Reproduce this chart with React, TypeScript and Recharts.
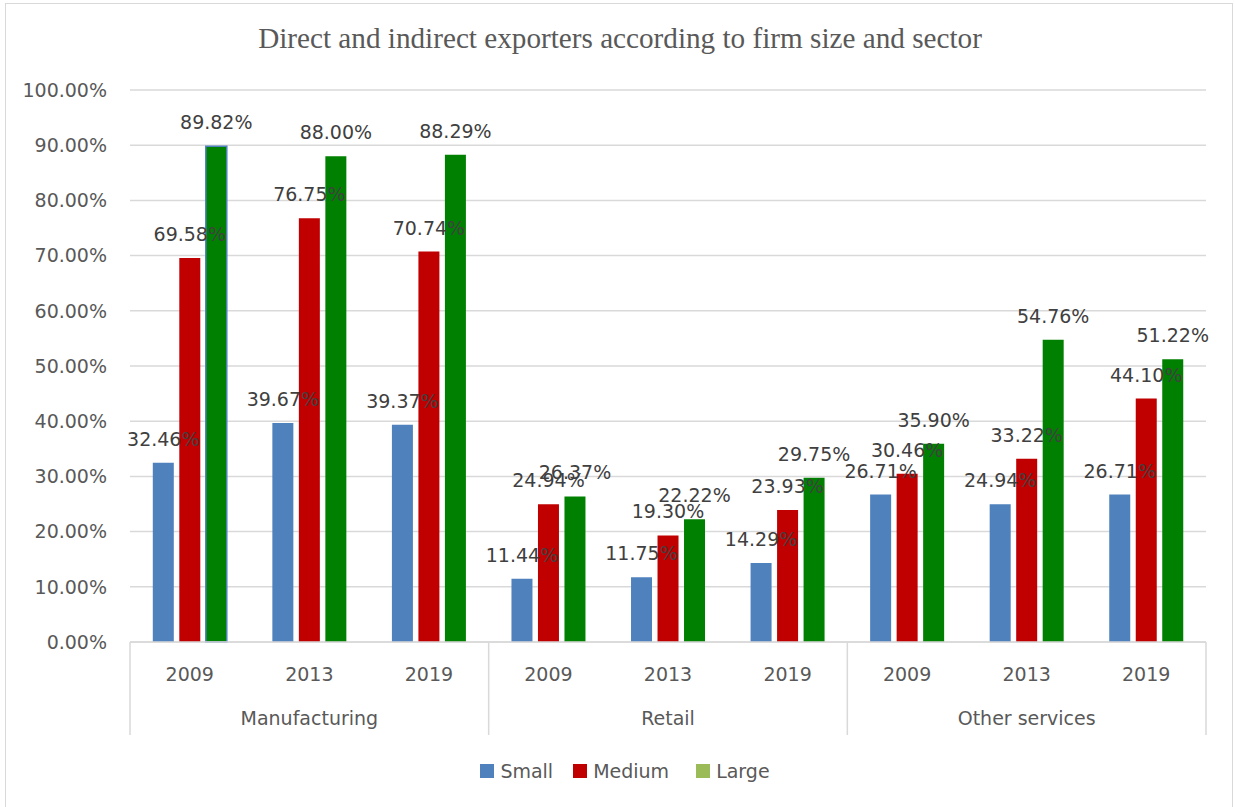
import React from 'react';
import { BarChart, Bar, XAxis, YAxis, CartesianGrid, LabelList, Cell } from 'recharts';

const sectors = ['Manufacturing', 'Retail', 'Other services'];
const years = ['2009', '2013', '2019'];

const small = [32.46, 39.67, 39.37, 11.44, 11.75, 14.29, 26.71, 24.94, 26.71];
const medium = [69.58, 76.75, 70.74, 24.94, 19.3, 23.93, 30.46, 33.22, 44.1];
const large = [89.82, 88.0, 88.29, 26.37, 22.22, 29.75, 35.9, 54.76, 51.22];

const yTicks = [0, 10, 20, 30, 40, 50, 60, 70, 80, 90, 100];

const data = small.map((v, i) => ({
  key: `${sectors[Math.floor(i / 3)]}-${years[i % 3]}`,
  year: years[i % 3],
  sector: sectors[Math.floor(i / 3)],
  small: v,
  medium: medium[i],
  large: large[i],
}));

const W = 1235;
const H = 807;
const xAxisHeight = 90;
const margin = { top: 90, right: 29, bottom: 165 - xAxisHeight, left: 30 };
const yAxisWidth = 100;
const plotWidth = W - margin.left - margin.right - yAxisWidth;
const band = plotWidth / data.length;

const FONT = '"DejaVu Sans", sans-serif';
const GRID = '#d9d9d9';

const pct = (v: number) => `${v.toFixed(2)}%`;

const XTick = (props: any) => {
  const { x, y, index } = props;
  const row = data[index];
  const left = x - band / 2;
  const right = x + band / 2;
  return (
    <g>
      <text x={x} y={y + 39} textAnchor="middle" fill="#595959" fontSize={19} fontFamily={FONT}>
        {row.year}
      </text>
      {index % 3 === 1 && (
        <text x={x} y={y + 83} textAnchor="middle" fill="#595959" fontSize={19} fontFamily={FONT}>
          {row.sector}
        </text>
      )}
      {index % 3 === 0 && <line x1={left} x2={left} y1={y} y2={y + 93} stroke={GRID} strokeWidth={1.5} />}
      {index === data.length - 1 && (
        <line x1={right} x2={right} y1={y} y2={y + 93} stroke={GRID} strokeWidth={1.5} />
      )}
    </g>
  );
};

const legendItems = [
  { name: 'Small', color: '#4f81bd', gap: 20 },
  { name: 'Medium', color: '#c00000', gap: 27 },
  { name: 'Large', color: '#9bbb59', gap: 0 },
];

const labelProps = {
  position: 'top' as const,
  offset: 17,
  formatter: (v: any) => pct(Number(v)),
  style: { fontFamily: FONT, fontSize: 19, fill: '#404040' },
};

export default function App() {
  return (
    <div style={{ position: 'absolute', left: 0, top: 0, width: W, height: H, background: '#fff' }}>
      <div
        style={{
          position: 'absolute',
          left: 5,
          top: 3,
          width: 1228,
          height: 810,
          border: '1.5px solid #d9d9d9',
          boxSizing: 'border-box',
        }}
      />
      <div
        style={{
          position: 'absolute',
          left: 0,
          top: 22,
          width: 1240,
          textAlign: 'center',
          fontFamily: '"Liberation Serif", "Times New Roman", serif',
          fontSize: 29.2,
          color: '#595959',
        }}
      >
        Direct and indirect exporters according to firm size and sector
      </div>
      <div style={{ position: 'absolute', left: 0, top: 0 }}>
        <BarChart
          width={W}
          height={H}
          data={data}
          margin={margin}
          barCategoryGap={22.8}
          barGap={5.5}
        >
          <CartesianGrid vertical={false} stroke={GRID} strokeWidth={1.5} />
          <XAxis
            dataKey="key"
            interval={0}
            tickLine={false}
            tickSize={0}
            tickMargin={0}
            axisLine={{ stroke: GRID, strokeWidth: 1.5 }}
            tick={<XTick />}
            height={xAxisHeight}
          />
          <YAxis
            width={yAxisWidth}
            domain={[0, 100]}
            ticks={yTicks}
            interval={0}
            axisLine={false}
            tickLine={false}
            tickMargin={17}
            tickFormatter={pct}
            tick={{ fontFamily: FONT, fontSize: 19, fill: '#595959' }}
          />
          <Bar dataKey="small" name="Small" fill="#4f81bd" isAnimationActive={false}>
            <LabelList dataKey="small" {...labelProps} />
          </Bar>
          <Bar dataKey="medium" name="Medium" fill="#c00000" isAnimationActive={false}>
            <LabelList dataKey="medium" {...labelProps} />
          </Bar>
          <Bar dataKey="large" name="Large" fill="#008000" isAnimationActive={false}>
            {data.map((d, i) => (
              <Cell key={d.key} stroke={i === 0 ? '#4f81bd' : 'none'} strokeWidth={i === 0 ? 1.5 : 0} />
            ))}
            <LabelList dataKey="large" {...labelProps} />
          </Bar>
        </BarChart>
      </div>
      <div
        style={{
          position: 'absolute',
          left: 0,
          top: 760,
          width: 1250,
          display: 'flex',
          justifyContent: 'center',
          fontFamily: FONT,
          fontSize: 19,
          lineHeight: '22px',
          color: '#595959',
        }}
      >
        {legendItems.map((it) => (
          <div key={it.name} style={{ display: 'flex', alignItems: 'center', marginRight: it.gap }}>
            <span style={{ display: 'inline-block', width: 14, height: 14, background: it.color, marginRight: 6 }} />
            <span>{it.name}</span>
          </div>
        ))}
      </div>
    </div>
  );
}
